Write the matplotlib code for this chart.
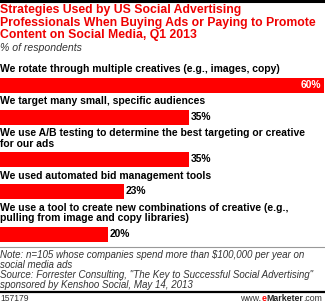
import matplotlib
matplotlib.use("Agg")
import matplotlib.pyplot as plt
from matplotlib.lines import Line2D

categories = [
    "We rotate through multiple creatives (e.g., images, copy)",
    "We target many small, specific audiences",
    "We use A/B testing to determine the best targeting or creative\nfor our ads",
    "We used automated bid management tools",
    "We use a tool to create new combinations of creative (e.g.,\npulling from image and copy libraries)",
]
values = [60, 35, 35, 23, 20]
value_labels = ["60%", "35%", "35%", "23%", "20%"]

title = ("Strategies Used by US Social Advertising\n"
         "Professionals When Buying Ads or Paying to Promote\n"
         "Content on Social Media, Q1 2013")
subtitle = "% of respondents"
note = ("Note: n=105 whose companies spend more than $100,000 per year on\n"
        "social media ads\n"
        "Source: Forrester Consulting, \"The Key to Successful Social Advertising\"\n"
        "sponsored by Kenshoo Social, May 14, 2013")
chart_id = "157179"

W, H = 325, 304
fig = plt.figure(figsize=(W / 100, H / 100), dpi=100)
FONT = "Liberation Sans"
RED = "#ff0000"
TRED = "#ee0000"

ov = fig.add_axes([0, 0, 1, 1])
ov.set_xlim(0, W)
ov.set_ylim(H, 0)
ov.axis("off")

ax = fig.add_axes([0, 0, 324 / W, 1])
ax.set_xlim(0, 60)
ax.set_ylim(H, 0)
ax.axis("off")

ov.add_line(Line2D([0, W], [1, 1], color="black", lw=2.2))

ov.text(0, 4.5, title, color=TRED, fontsize=8.8, fontweight="bold",
        family=FONT, va="top", ha="left", linespacing=1.03)
ov.text(0, 43, subtitle, color="#333333", fontsize=7.6, style="italic",
        family=FONT, va="top", ha="left")

line_h = 10.5
bar_h = 15
y = 70
for cat, v, lab in zip(categories, values, value_labels):
    nlines = cat.count("\n") + 1
    ax.text(0, y - 5.5, cat, fontsize=7.45, fontweight="bold", family=FONT,
            va="top", ha="left", linespacing=1.02, color="black")
    yc = y + (nlines - 1) * line_h + 15
    ax.barh(yc, v, height=bar_h, color=RED, left=0)
    if v >= 55:
        ax.text(v - 0.6, yc, lab, color="white", fontsize=7.4, fontweight="bold",
                family=FONT, va="center", ha="right")
    else:
        ax.text(v + 0.3, yc, lab, color="black", fontsize=7.4, fontweight="bold",
                family=FONT, va="center", ha="left")
    y = yc + 17

ov.add_line(Line2D([0, W], [247, 247], color="#999999", lw=0.8))
ov.text(0, 250.5, note, color="#333333", fontsize=7.0, style="italic",
        family=FONT, va="top", ha="left", linespacing=0.98)
ov.add_line(Line2D([0, W], [292, 292], color="black", lw=1.6))
ov.text(0, 298.5, chart_id, color="#333333", fontsize=6.2, family=FONT,
        va="center", ha="left")

fs = 6.3
t_com = ov.text(W - 3, 298.5, ".com", color="#333333", fontsize=fs, family=FONT,
                va="center", ha="right")
t_mk = ov.annotate("Marketer", xy=(0, 0.5), xycoords=t_com, color="#222222",
                   fontsize=fs, fontweight="bold", family=FONT, va="center", ha="right")
t_e = ov.annotate("e", xy=(0, 0.5), xycoords=t_mk, color=RED,
                  fontsize=fs, fontweight="bold", family=FONT, va="center", ha="right")
ov.annotate("www.", xy=(0, 0.5), xycoords=t_e, color="#333333",
            fontsize=fs, family=FONT, va="center", ha="right")

fig.savefig("out.png", dpi=100)
